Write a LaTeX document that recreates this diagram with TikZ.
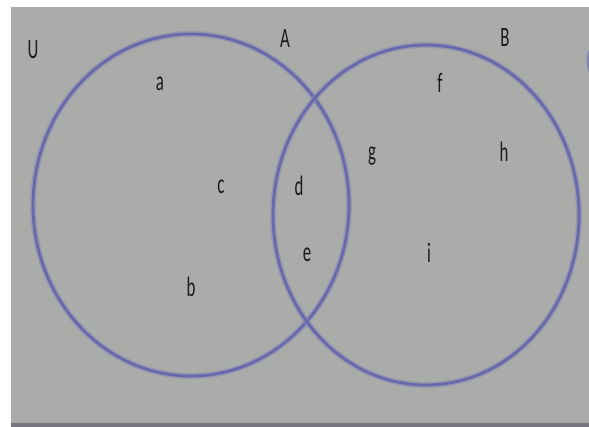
\documentclass[tikz,border=0pt]{standalone}
\usepackage{fontspec}
\newfontfamily\labfont[FakeStretch=0.6]{Carlito}
\definecolor{paper}{RGB}{170,172,170}
\definecolor{ink}{RGB}{104,104,172}
\definecolor{inklight}{RGB}{135,135,178}
\definecolor{edge}{RGB}{118,118,128}
\tikzset{
  lbl/.style={inner sep=0pt, font=\labfont\fontsize{28}{30}\selectfont, text=black!90},
  penwide/.style={draw=inklight, line width=6pt, opacity=0.55},
  pen/.style={draw=ink, line width=2.8pt}
}
\begin{document}
\begin{tikzpicture}[x=1pt,y=-1pt]
\useasboundingbox (0,0) rectangle (589,427);
\fill[white] (0,0) rectangle (589,427);
\fill[paper] (11,7) rectangle (589,427);
\fill[edge] (11,423) rectangle (589,427);
% set A
\coordinate (ca) at (191,205);
\coordinate (cb) at (426,215);
\draw[penwide] (ca) ellipse [x radius=158pt, y radius=171pt];
\draw[pen] (ca) ellipse [x radius=158pt, y radius=171pt];
% set B
\draw[penwide] (cb) ellipse [x radius=153pt, y radius=170pt];
\draw[pen] (cb) ellipse [x radius=153pt, y radius=170pt];
% partial edge on the right
\coordinate (r1) at (590,50);
\coordinate (r2) at (590,72);
\draw[draw=inklight, line width=2.5pt] (r1) .. controls (587,57) and (587,65) .. (r2);
% labels
\node[lbl] (U) at (33,50) {U};
\node[lbl] (A) at (285,39) {A};
\node[lbl] (B) at (505,38) {B};
\node[lbl] (a) at (160,84) {a};
\node[lbl] (f) at (440,83) {f};
\node[lbl] (g) at (372,156) {g};
\node[lbl] (h) at (504,152) {h};
\node[lbl] (c) at (221,187) {c};
\node[lbl] (d) at (299,186) {d};
\node[lbl] (e) at (307,255) {e};
\node[lbl] (i) at (429,253) {i};
\node[lbl] (b) at (191,287) {b};
\end{tikzpicture}
\end{document}
